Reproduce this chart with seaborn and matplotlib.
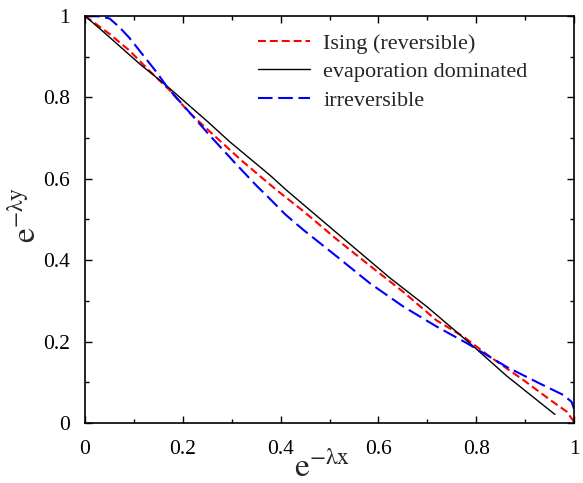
import numpy as np
import pandas as pd
import matplotlib
matplotlib.use("Agg")
import matplotlib.pyplot as plt
import seaborn as sns

# ---------------- DATA ----------------
ising_x = [0.0, 0.05, 0.091, 0.131, 0.172, 0.213, 0.268, 0.322, 0.391, 0.446,
           0.515, 0.583, 0.651, 0.719, 0.774, 0.828, 0.896, 0.951, 0.985, 1.0]
ising_y = [1.0, 0.956, 0.915, 0.866, 0.819, 0.763, 0.702, 0.643, 0.573, 0.521,
           0.451, 0.386, 0.322, 0.252, 0.212, 0.163, 0.106, 0.057, 0.028, 0.003]

evap_x = [0.0, 0.033, 0.115, 0.138, 0.176, 0.254, 0.295, 0.378, 0.412, 0.508,
          0.624, 0.699, 0.787, 0.862, 0.961]
evap_y = [1.0, 0.966, 0.879, 0.857, 0.819, 0.737, 0.692, 0.609, 0.572, 0.474,
          0.356, 0.286, 0.196, 0.116, 0.021]

irr_x = [0.0, 0.03, 0.05, 0.07, 0.091, 0.118, 0.145, 0.172, 0.2, 0.254, 0.309,
         0.35, 0.377, 0.41, 0.446, 0.515, 0.583, 0.651, 0.719, 0.781, 0.862,
         0.93, 0.978, 0.995, 1.0]
irr_y = [1.0, 0.999, 0.994, 0.973, 0.946, 0.905, 0.864, 0.819, 0.782, 0.708,
         0.636, 0.584, 0.552, 0.512, 0.475, 0.409, 0.343, 0.286, 0.237, 0.196,
         0.138, 0.097, 0.069, 0.052, 0.035]

labels = ["Ising (reversible)", "evaporation dominated", "irreversible"]
ticks = [0, 0.2, 0.4, 0.6, 0.8, 1]
tick_labels = ["0", "0.2", "0.4", "0.6", "0.8", "1"]

# ---------------- STYLE ----------------
sns.set_style("ticks")
plt.rcParams["font.family"] = ["Liberation Serif", "DejaVu Serif"]
plt.rcParams["mathtext.fontset"] = "stix"

fig = plt.figure(figsize=(5.83, 4.83), dpi=100)
ax = fig.add_axes([0.1458, 0.1242, 0.8388, 0.8427])

sns.lineplot(x=ising_x, y=ising_y, ax=ax, sort=False, color="#ff0000",
             lw=1.5, label=labels[0])
sns.lineplot(x=evap_x, y=evap_y, ax=ax, sort=False, color="black",
             lw=1.0, label=labels[1])
sns.lineplot(x=irr_x, y=irr_y, ax=ax, sort=False, color="#0000ff",
             lw=1.5, label=labels[2])

lines = ax.get_lines()
lines[0].set_dashes([3.8, 1.9])
lines[2].set_dashes([7, 2.7])

ax.set_xlim(0, 1)
ax.set_ylim(0, 1)
ax.set_xticks(ticks)
ax.set_xticklabels(tick_labels)
ax.set_yticks(ticks)
ax.set_yticklabels(tick_labels)
ax.set_xticks(np.arange(0.1, 1.0, 0.2), minor=True)
ax.set_yticks(np.arange(0.1, 1.0, 0.2), minor=True)
ax.tick_params(which="both", direction="in", top=True, right=True,
               labelsize=15.5, colors="black")
ax.tick_params(which="major", length=5, width=1)
ax.tick_params(which="minor", length=3, width=1)
ax.tick_params(axis="x", which="major", pad=12)
ax.tick_params(axis="y", which="major", pad=11)
for s in ax.spines.values():
    s.set_linewidth(1.2)
    s.set_color("black")

ax.set_xlabel(r"$\mathrm{e}^{\mathrm{-\lambda x}}$", fontsize=24, labelpad=-6)
ax.xaxis.label.set_x(0.484)
ax.set_ylabel(r"$\mathrm{e}^{\mathrm{-\lambda y}}$", fontsize=24, labelpad=0)
ax.yaxis.label.set_y(0.51)

leg = ax.legend(loc="upper left", bbox_to_anchor=(0.354, 0.958), frameon=False,
                fontsize=16, handlelength=2.34, handletextpad=0.59,
                borderaxespad=0, borderpad=0, labelspacing=0.36)

fig.savefig("out.png", dpi=100)
